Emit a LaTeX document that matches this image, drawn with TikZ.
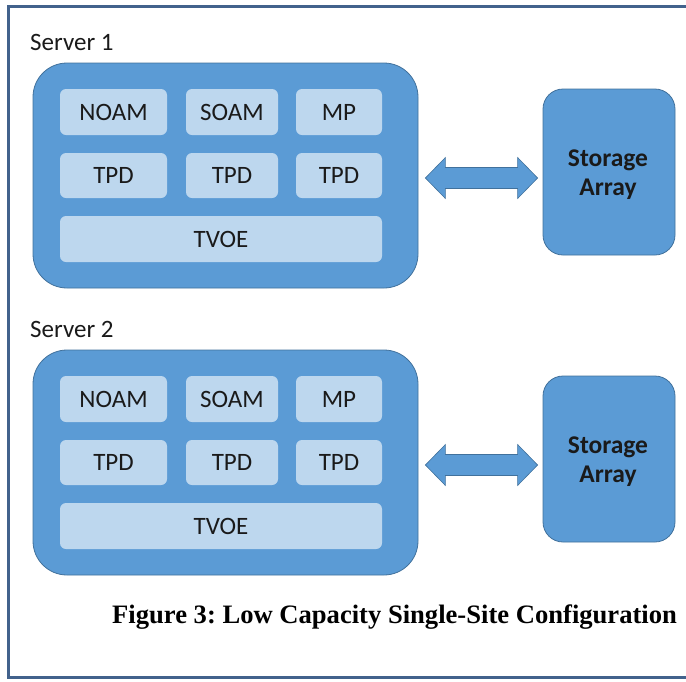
\documentclass[tikz,border=0pt]{standalone}
\usepackage{fontspec}
\setmainfont{Carlito}
\newfontfamily\capfont{Liberation Serif}
\usetikzlibrary{calc}
\definecolor{srvfill}{HTML}{5B9BD5}
\definecolor{srvline}{HTML}{41719C}
\definecolor{subfill}{HTML}{BDD7EE}
\definecolor{frameline}{RGB}{66,98,140}
\definecolor{txt}{HTML}{1A1A1A}
\tikzset{
  server/.style={draw=srvline, line width=0.8pt, fill=srvfill, rounded corners=34pt, inner sep=0pt},
  storage/.style={draw=srvline, line width=0.8pt, fill=srvfill, rounded corners=20pt, inner sep=0pt,
    minimum width=132pt, minimum height=166pt},
  sub/.style={fill=subfill, rounded corners=6pt, inner sep=0pt, minimum height=46pt,
    font=\fontsize{25}{30}\selectfont, text=txt},
  lbl/.style={inner sep=0pt, anchor=base west, font=\fontsize{25}{30}\selectfont, text=txt},
  stotext/.style={align=center, font=\fontsize{25.5}{29}\selectfont\bfseries, text=txt, inner sep=0pt},
  link/.style={draw=srvline, line width=0.6pt, fill=srvfill, line join=miter},
}
\begin{document}
\begin{tikzpicture}[x=1pt,y=-1pt]
\useasboundingbox (0,0) rectangle (686,681);
% frame
\draw[frameline, line width=3pt] (690,6.5) -- (8.5,6.5) -- (8.5,677.5) -- (690,677.5);
\foreach \i/\dy in {1/0,2/287}{
  \node[lbl] (lab\i) at (30,50+\dy) {Server \i};
  \node[server, minimum width=385pt, minimum height=225pt] (srv\i) at (225.5,175.5+\dy) {};
  \node[sub, minimum width=107pt] (noam\i) at (113.5,112+\dy) {NOAM};
  \node[sub, minimum width=92pt] (soam\i) at (232,112+\dy) {SOAM};
  \node[sub, minimum width=86pt] (mp\i) at (339,112+\dy) {MP};
  \node[sub, minimum width=107pt, minimum height=45pt] (tpda\i) at (113.5,175.5+\dy) {TPD};
  \node[sub, minimum width=92pt, minimum height=45pt] (tpdb\i) at (232,175.5+\dy) {TPD};
  \node[sub, minimum width=86pt, minimum height=45pt] (tpdc\i) at (339,175.5+\dy) {TPD};
  \node[sub, minimum width=322pt] (tvoe\i) at (221,239+\dy) {TVOE};
  \node[storage] (sto\i) at (609,172+\dy) {};
  \node[stotext] (stot\i) at (608,174.5+\dy) {Storage\\Array};
  % double block arrow between server and storage
  \coordinate (al\i) at ($(srv\i.east |- 0,178+\dy)+(7,0)$);
  \coordinate (ar\i) at ($(sto\i.west |- 0,178+\dy)+(-5,0)$);
  \draw[link] (al\i) -- ++(20,-20.5) -- ++(0,10) -- ($(ar\i)+(-20,-10.5)$) -- ++(0,-10)
    -- (ar\i) -- ++(-20,20.5) -- ++(0,-10) -- ($(al\i)+(20,10.5)$) -- ++(0,10) -- cycle;
}
\node[inner sep=0pt, anchor=base west, font=\capfont\bfseries\fontsize{26.6}{30}\selectfont\frenchspacing] (cap) at (112,623) {Figure 3: Low Capacity Single-Site Configuration};
\end{tikzpicture}
\end{document}
